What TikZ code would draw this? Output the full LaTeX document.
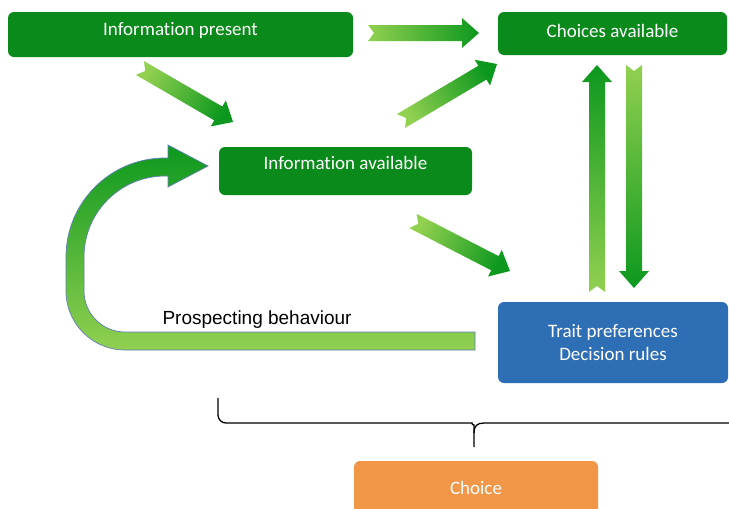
\documentclass[tikz,border=0pt]{standalone}
\usepackage{fontspec}
\newfontfamily\boxfont[Ligatures=NoCommon]{Carlito}
\newfontfamily\labelfont{Liberation Sans}
\usetikzlibrary{calc}

\definecolor{boxgreen}{RGB}{10,138,26}
\definecolor{traitblue}{RGB}{46,110,180}
\definecolor{choiceorange}{RGB}{242,150,72}
\definecolor{lightarrow}{RGB}{146,208,80}
\definecolor{darkarrow}{RGB}{12,152,30}
\definecolor{arrowedge}{RGB}{95,125,185}

% block arrow with a notched tail, shaded light (tail) to dark (head)
\newcommand{\garrow}[2]{%
  \path let \p1=($(#2)-(#1)$) in
    \pgfextra{\pgfmathsetmacro\garang{atan2(\y1,\x1)-90}\global\let\garang\garang};
  \coordinate (neck) at ($(#2)!17pt!(#1)$);
  \shade[bottom color=lightarrow,top color=darkarrow,shading angle=\garang]
    ($(#1)!8pt!90:(#2)$) -- ($(neck)!8pt!-90:(#1)$) -- ($(neck)!15pt!-90:(#1)$)
    -- (#2) -- ($(neck)!15pt!90:(#1)$) -- ($(neck)!8pt!90:(#1)$)
    -- ($(#1)!8pt!-90:(#2)$) -- ($(#1)!6pt!(#2)$) -- cycle;
}

\begin{document}
\begin{tikzpicture}[x=1pt,y=1pt]
	\tikzstyle{box}=[rectangle,rounded corners=6pt,fill=boxgreen,text=white,inner sep=0pt,
	                 font=\boxfont\fontsize{19}{23}\selectfont]
	\tikzstyle{loop}=[bottom color=lightarrow,top color=darkarrow,draw=arrowedge,line width=0.7pt]
	\tikzstyle{bracket}=[line width=1.3pt,black]
	\useasboundingbox (0,0) rectangle (729,-509);

	\node (infopresent) at (180.5,-34.5) [box,minimum width=345,text height=23pt,text depth=22pt] {Information present};
	\node (choices) at (612.5,-33.5) [box,minimum width=229,text height=25pt,text depth=18pt] {Choices available};
	\node (infoavail) at (345.5,-171) [box,minimum width=253,text height=22pt,text depth=26pt] {Information available};
	\node (trait) at (613,-342.5) [box,fill=traitblue,minimum width=230,minimum height=81,align=center] {Trait preferences\\Decision rules};
	\node (choice) at (476,-488) [box,fill=choiceorange,minimum width=244,minimum height=54] {Choice};

	% arrow ends
	\coordinate (pc-from) at (368,-33);  \coordinate (pc-to) at (479,-33);
	\coordinate (pa-from) at (140,-68);  \coordinate (pa-to) at (233,-122);
	\coordinate (ac-from) at (401,-121); \coordinate (ac-to) at (497,-64);
	\coordinate (at-from) at (413,-221); \coordinate (at-to) at (510,-271);
	\coordinate (tc-from) at (597,-292); \coordinate (tc-to) at (597,-65);
	\coordinate (ct-from) at (634,-65);  \coordinate (ct-to) at (634,-288);

	\garrow{pc-from}{pc-to}
	\garrow{pa-from}{pa-to}
	\garrow{ac-from}{ac-to}
	\garrow{at-from}{at-to}
	\garrow{tc-from}{tc-to}
	\garrow{ct-from}{ct-to}

	% prospecting loop back to the information available
	\shade[loop] (475,-350) -- (125,-350) arc (270:180:59) -- (66,-257) arc (180:90:99)
		-- (168,-158) -- (168,-145) -- (208,-166) -- (168,-187) -- (168,-176) -- (165,-176)
		arc (90:180:81) -- (84,-291) arc (180:270:41) -- (475,-332) -- cycle;
	\node (prospect) at (159,-324) [anchor=base west,font=\labelfont\fontsize{19}{23}\selectfont] {Prospecting behaviour};

	% bracket over the choice
	\draw [bracket,rounded corners=8pt] (218,-398) -- (218,-423) -- (464,-423)
		.. controls (471,-423) and (474,-426) .. (474,-433) -- (474,-447);
	\draw [bracket] (729,-423) -- (484,-423) .. controls (477,-423) and (474,-426) .. (474,-433);
\end{tikzpicture}
\end{document}
